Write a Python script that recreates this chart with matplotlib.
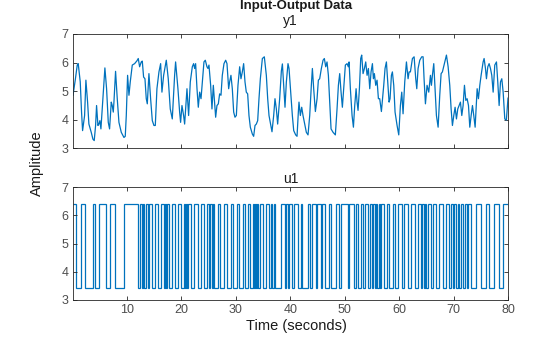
import numpy as np
import matplotlib.pyplot as plt

plt.rcParams['font.family'] = ['Liberation Sans', 'DejaVu Sans']

# output channel y1: sample times and amplitudes
y1_t = [0.08, 0.49, 0.86, 1.04, 1.41, 1.65, 1.84, 2.21, 2.45, 2.76, 3.0, 3.43, 3.74, 3.98,
        4.23, 4.41, 4.66, 4.84, 5.02, 5.21, 5.58, 5.94, 6.25, 6.56, 6.8, 7.11, 7.29, 7.48,
        7.6, 7.9, 8.21, 8.52, 8.95, 9.44, 9.68, 9.87, 10.11, 10.36, 10.6, 10.97, 11.4,
        11.83, 12.07, 12.32, 12.62, 12.81, 13.05, 13.3, 13.54, 13.73, 14.03, 14.34, 14.65,
        14.95, 15.2, 15.5, 15.87, 16.18, 16.42, 16.73, 17.22, 17.58, 17.95, 18.32, 18.75,
        18.93, 19.36, 19.67, 19.85, 20.1, 20.4, 20.59, 21.02, 21.32, 21.63, 22.0, 22.24,
        22.43, 22.61, 22.86, 23.1, 23.35, 23.6, 23.84, 24.14, 24.39, 24.69, 24.88, 25.06,
        25.37, 25.61, 25.86, 26.04, 26.29, 26.53, 26.78, 27.02, 27.27, 27.51, 27.82, 28.13,
        28.37, 28.68, 28.86, 29.1, 29.35, 29.6, 29.84, 30.09, 30.39, 30.7, 30.94, 31.19,
        31.43, 31.68, 31.92, 32.17, 32.41, 32.66, 33.03, 33.27, 33.52, 33.76, 34.01, 34.25,
        34.5, 34.87, 35.23, 35.6, 35.85, 36.09, 36.64, 36.95, 37.19, 37.44, 37.68, 38.05,
        38.36, 38.55, 38.85, 39.03, 39.28, 39.58, 39.77, 40.07, 40.38, 40.63, 40.99, 41.24,
        41.48, 41.6, 41.85, 42.1, 42.34, 42.65, 42.95, 43.26, 43.57, 43.87, 44.06, 44.3,
        44.61, 44.92, 45.16, 45.4, 45.71, 46.02, 46.26, 46.51, 46.75, 47.0, 47.24, 47.49,
        47.86, 48.28, 48.59, 48.84, 49.08, 49.33, 49.57, 49.82, 50.12, 50.43, 50.67, 50.8,
        51.04, 51.35, 51.6, 51.84, 52.09, 52.27, 52.45, 52.7, 52.94, 53.12, 53.37, 53.62,
        53.86, 54.11, 54.35, 54.6, 54.84, 55.09, 55.27, 55.45, 55.7, 55.94, 56.19, 56.43,
        56.74, 57.17, 57.41, 57.66, 57.9, 58.15, 58.33, 58.58, 58.76, 59.01, 59.25, 59.62,
        59.93, 60.23, 60.48, 60.72, 61.03, 61.34, 61.64, 61.83, 62.07, 62.44, 62.75, 63.05,
        63.24, 63.48, 63.79, 64.15, 64.4, 64.58, 64.83, 65.13, 65.44, 65.75, 65.93, 66.11,
        66.36, 66.6, 66.85, 67.16, 67.46, 67.71, 67.95, 68.38, 68.69, 69.0, 69.3, 69.55,
        69.79, 70.04, 70.28, 70.53, 70.77, 71.02, 71.26, 71.51, 71.75, 72.0, 72.25, 72.49,
        72.74, 72.98, 73.23, 73.47, 73.71, 73.96, 74.33, 74.57, 74.82, 75.06, 75.43, 75.61,
        75.86, 76.04, 76.29, 76.53, 76.78, 77.02, 77.27, 77.57, 77.88, 78.12, 78.37, 78.62,
        78.86, 79.11, 79.41, 79.7, 80.0]
y1_v = [4.85, 5.38, 5.91, 5.96, 5.32, 4.26, 3.61, 4.14, 5.38, 4.61, 3.84, 3.55, 3.31, 3.26,
        3.79, 4.49, 3.79, 3.84, 3.96, 3.67, 4.73, 5.81, 5.08, 3.9, 3.67, 4.61, 4.49, 4.26,
        4.61, 5.69, 4.73, 3.9, 3.55, 3.37, 3.41, 4.14, 5.55, 4.85, 5.32, 5.91, 5.96,
        6.06, 6.14, 5.85, 6.02, 6.05, 5.49, 5.43, 4.73, 4.55, 5.61, 4.73, 3.96,
        3.79, 3.79, 5.08, 5.67, 5.96, 4.96, 5.55, 6.08, 5.43, 4.37, 4.02, 5.55,
        6.02, 5.08, 4.26, 3.9, 4.49, 4.14, 3.84, 5.08, 4.14, 5.32, 5.85, 5.96,
        5.79, 5.96, 5.08, 4.43, 4.96, 4.73, 5.32, 6.02, 6.08, 5.85, 5.79, 5.91,
        5.2, 4.37, 5.2, 4.73, 4.08, 4.49, 4.55, 4.9, 4.85, 5.55, 5.96, 6.08,
        5.96, 5.08, 5.32, 5.55, 5.08, 4.26, 4.08, 4.14, 5.2, 5.85, 5.43, 5.67,
        5.96, 5.32, 4.96, 4.9, 4.14, 3.73, 3.49, 3.41, 3.79, 3.84, 3.96, 4.73,
        5.43, 6.14, 6.2, 5.55, 4.73, 4.14, 3.57, 4.14, 4.73, 4.37, 3.84, 4.73,
        5.7, 5.95, 5.0, 4.43, 5.32, 5.96, 5.79, 4.96, 4.14, 3.61, 3.46, 3.41,
        4.26, 4.61, 4.14, 4.43, 4.14, 3.84, 3.55, 3.46, 4.14, 5.2, 5.79, 5.08,
        4.28, 4.73, 5.38, 5.43, 5.79, 6.08, 6.14, 5.85, 6.02, 5.55, 4.61, 3.67,
        3.55, 3.46, 4.37, 5.2, 5.61, 4.96, 4.43, 5.08, 5.91, 5.96, 5.85, 6.02,
        5.08, 4.14, 3.73, 4.49, 5.08, 4.61, 4.32, 5.08, 6.14, 6.26, 5.61, 5.79,
        6.02, 5.55, 5.79, 5.08, 5.67, 5.96, 5.43, 5.61, 5.2, 5.38, 4.73, 4.73,
        4.28, 5.2, 5.79, 6.02, 5.32, 4.61, 4.73, 5.55, 5.67, 5.2, 4.26, 3.79,
        3.46, 4.49, 4.96, 4.2, 5.32, 6.02, 5.43, 5.67, 5.67, 6.14, 6.2, 5.43,
        5.08, 5.79, 6.08, 6.2, 6.2, 5.43, 4.55, 5.2, 4.96, 5.55, 5.2, 5.55,
        5.96, 5.08, 4.14, 3.73, 4.85, 5.61, 5.67, 6.02, 6.26, 5.85, 5.2, 4.37,
        3.79, 4.14, 4.43, 4.02, 4.37, 4.49, 4.61, 4.14, 4.49, 5.2, 4.67, 4.73,
        4.49, 3.73, 4.14, 4.49, 4.14, 3.73, 5.08, 4.73, 5.2, 5.55, 6.02, 6.14,
        5.79, 5.43, 5.85, 5.96, 5.79, 5.55, 4.96, 5.91, 6.02, 5.32, 4.49, 5.32,
        5.43, 4.96, 4.02, 3.98, 4.75]

# input channel u1: two-level signal, times at which it toggles
u1_low, u1_high = 3.41, 6.41
u1_first = u1_high
u1_switch = [0.55, 1.59, 2.2, 3.74, 4.1, 4.84, 6.19, 6.92, 7.72, 9.44,
             12.07, 12.44, 12.68, 12.93, 13.17, 13.54, 13.79, 14.09,
             14.52, 15.13, 15.75, 16.24, 16.73, 17.03, 17.22, 17.34,
             17.77, 18.2, 18.81, 19.42, 19.91, 20.4, 20.65, 20.83, 21.02, 21.2,
             21.75, 22.37, 23.1, 23.59, 24.2, 24.69, 25.06, 25.31, 25.55, 25.8, 26.04,
             26.65, 27.14, 27.76, 28.37, 29.1, 29.5, 30.2, 30.6,
             31.25, 31.74, 32.17, 32.66, 33.09,
             33.4, 33.58, 33.76, 33.95, 34.13, 34.5, 34.93, 35.6, 36.0, 36.4, 36.7,
             37.0, 37.25, 38.3, 39.0, 39.3, 39.52, 39.77, 40.4, 40.7,
             41.36, 41.97, 42.22, 43.2,
             43.69, 43.93, 44.73, 44.98, 45.65, 45.89, 46.38, 47.1, 47.4, 48.41,
             49.02, 49.26, 50.55, 50.8, 51.78, 52.02,
             52.51, 53.0, 53.37, 53.8, 54.23, 54.6, 54.96, 55.27, 55.51, 55.76, 56.0,
             56.25, 56.5, 56.74, 57.29, 57.78, 58.21, 58.82, 59.31, 59.74,
             60.5, 60.9, 61.6, 62.2,
             62.93, 63.42, 64.03, 64.28, 64.52, 64.77, 65.01, 65.26, 65.87, 66.24,
             66.79, 67.4, 68.01, 68.63, 69.24, 69.55, 69.85, 70.16, 70.47, 70.77,
             71.08, 71.38, 71.75, 72.12, 72.43, 72.73, 73.22, 74.14, 75.06, 75.98,
             76.59, 77.51, 78.43, 79.04]
t_first, t_last = 0.08, 80.0

line_color = '#0072BD'
axis_color = '#262626'
label_color = '#4D4D4D'

# step levels between toggles
edges = np.array([t_first] + u1_switch + [t_last])
levels = np.empty(len(edges) - 1)
levels[0::2] = u1_first
levels[1::2] = u1_low if u1_first == u1_high else u1_high

fig = plt.figure(figsize=(5.6, 3.37), dpi=100)
ax_y = fig.add_axes([73 / 560, 1 - 148 / 337, 435 / 560, 114 / 337])
ax_u = fig.add_axes([73 / 560, 1 - 300 / 337, 435 / 560, 113 / 337])

ax_y.plot(y1_t, y1_v, color=line_color, lw=0.9)
ax_u.stairs(levels, edges, baseline=None, color=line_color, lw=0.9)


def style(ax, title, pad):
    ax.set_xlim(t_first, t_last)
    ax.set_ylim(3, 7)
    ax.set_yticks([3, 4, 5, 6, 7])
    ax.set_xticks(range(10, 81, 10))
    ax.tick_params(direction='in', top=True, right=True, length=3, width=0.6,
                   color=axis_color, labelcolor=label_color, labelsize=9, pad=3)
    for sp in ax.spines.values():
        sp.set_color(axis_color)
        sp.set_linewidth(0.6)
    ax.set_title(title, fontsize=10, color='#1a1a1a', pad=pad)


style(ax_y, 'y1', 6.2)
style(ax_u, 'u1', 2.6)
ax_y.tick_params(labelbottom=False)

fig.text(296 / 560, 1 - 6 / 337, 'Input-Output Data', ha='center', va='center',
         fontsize=9.5, fontweight='bold', color='#1a1a1a')
fig.text(296 / 560, 1 - 326 / 337, 'Time (seconds)', ha='center', va='center',
         fontsize=10.5, color='#1a1a1a')
fig.text(37 / 560, 1 - 163 / 337, 'Amplitude', ha='center', va='center',
         rotation=90, fontsize=10.5, color='#1a1a1a')

fig.savefig('out.png', dpi=100)
